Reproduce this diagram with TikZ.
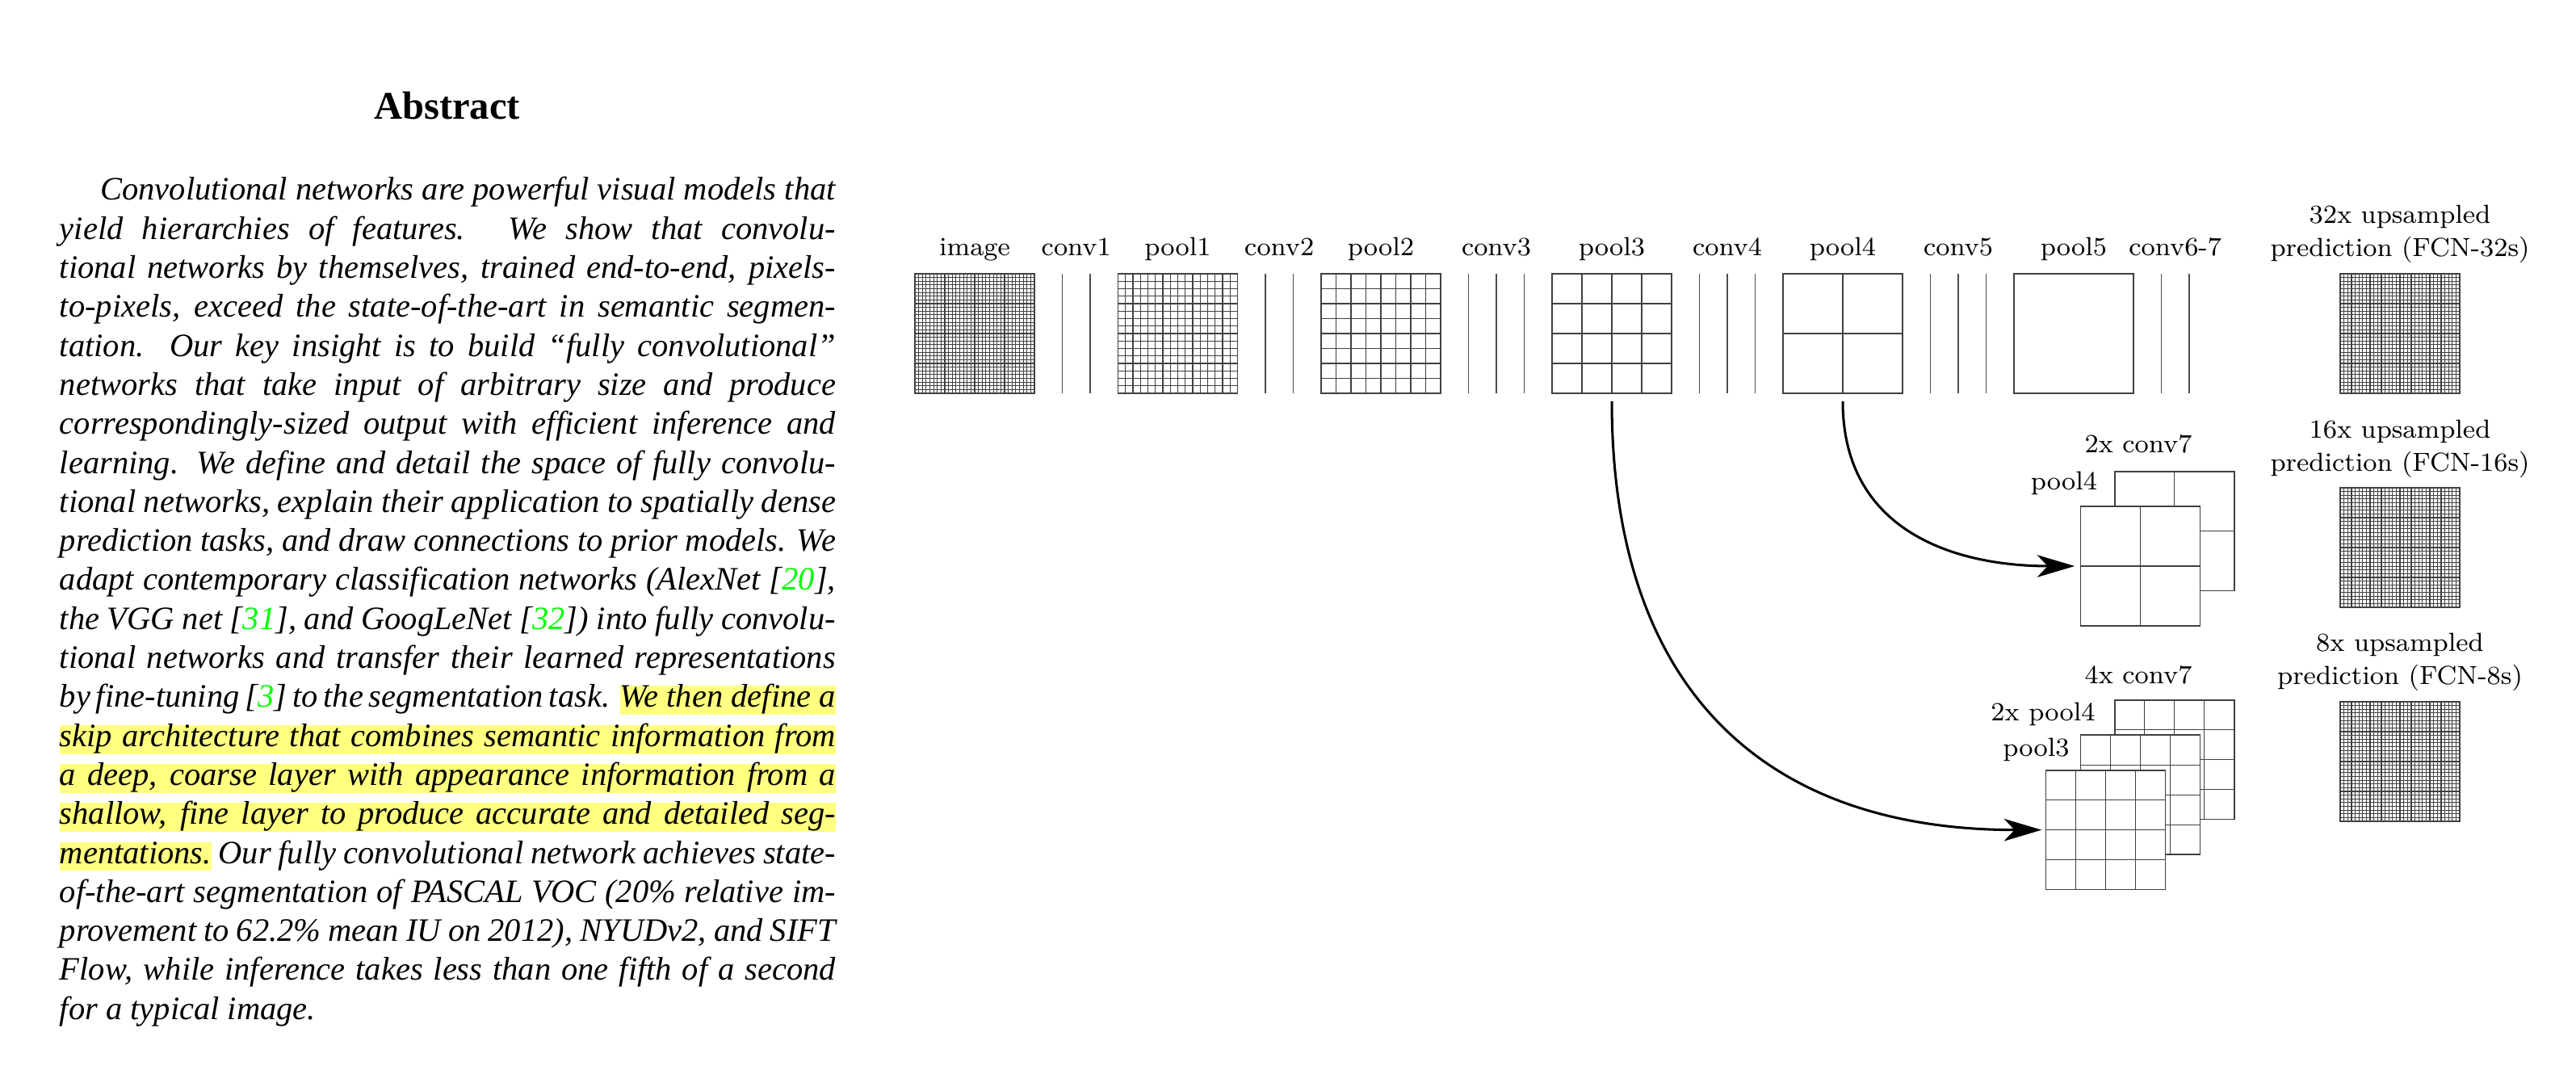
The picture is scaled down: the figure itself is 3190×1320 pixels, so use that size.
\documentclass[tikz,border=0pt]{standalone}
\usepackage{fontspec}
\newfontfamily\timesfont{Liberation Serif}
\usetikzlibrary{arrows.meta,calc}
\definecolor{hlyellow}{RGB}{255,255,128}
\definecolor{citegreen}{RGB}{0,255,0}
\newlength\abswidth
\setlength\abswidth{237.3pt}
\newcommand\absln[1]{\hbox to \abswidth{#1}}
\newcommand\hlbox[1]{{\setlength\fboxsep{0pt}\colorbox{hlyellow}{\rule[-2.3pt]{0pt}{8.85pt}\smash{#1}}}}
\newcommand\cg[1]{\textcolor{citegreen}{#1}}
\newcommand\gridbox[4]{%
  \node[fmap] (#1) at ({#2+74},{#3+74}) {};
  \pgfmathtruncatemacro\gmax{#4-1}%
  \ifnum\gmax>0
    \foreach \k in {1,...,\gmax}{%
      \draw[gline] ({#2+\k*148/#4},#3) -- ({#2+\k*148/#4},{#3+148});
      \draw[gline] (#2,{#3+\k*148/#4}) -- ({#2+148},{#3+\k*148/#4});
    }%
  \fi
}
\begin{document}
\begin{tikzpicture}[x=0.24691pt,y=-0.24691pt,
  fmap/.style={draw=black!75,line width=0.4pt,fill=white,minimum width=36.54pt,minimum height=36.54pt,inner sep=0pt,outer sep=0pt},
  gline/.style={draw=black!75,line width=0.3pt},
  cline/.style={draw=black!70,line width=0.4pt},
  lab/.style={font=\fontsize{8}{10.3}\selectfont,anchor=base,inner sep=0pt},
  lab2/.style={lab,align=center},
  absl/.style={anchor=base west,inner sep=0pt,font=\timesfont\itshape\fontsize{10}{12}\selectfont},
  skiparrow/.style={line width=0.75pt,-{Stealth[length=11.5pt,width=6.8pt,inset=3.2pt]}}]
\useasboundingbox (0,0) rectangle (3190,1320);
\fill[white] (0,0) rectangle (3190,1320);

% ---------- abstract ----------
\node[font=\timesfont\bfseries\fontsize{12}{14}\selectfont,anchor=base,inner sep=0pt] (abstitle) at (553.5,148) {Abstract};
\node[absl] (t0) at (73,248.0) {\absln{\hskip12.5pt Convolutional networks are powerful visual models that}};
\node[absl] (t1) at (73,296.3) {\absln{yield hierarchies of features. We show that convolu-}};
\node[absl] (t2) at (73,344.6) {\absln{tional networks by themselves, trained end-to-end, pixels-}};
\node[absl] (t3) at (73,392.9) {\absln{to-pixels, exceed the state-of-the-art in semantic segmen-}};
\node[absl] (t4) at (73,441.2) {\absln{tation. Our key insight is to build “fully convolutional”}};
\node[absl] (t5) at (73,489.5) {\absln{networks that take input of arbitrary size and produce}};
\node[absl] (t6) at (73,537.8) {\absln{correspondingly-sized output with efficient inference and}};
\node[absl] (t7) at (73,586.1) {\absln{learning. We define and detail the space of fully convolu-}};
\node[absl] (t8) at (73,634.4) {\absln{tional networks, explain their application to spatially dense}};
\node[absl] (t9) at (73,682.7) {\absln{prediction tasks, and draw connections to prior models. We}};
\node[absl] (t10) at (73,731.0) {\absln{adapt contemporary classification networks (AlexNet [\cg{20}],}};
\node[absl] (t11) at (73,779.3) {\absln{the VGG net [\cg{31}], and GoogLeNet [\cg{32}]) into fully convolu-}};
\node[absl] (t12) at (73,827.6) {\absln{tional networks and transfer their learned representations}};
\node[absl] (t13) at (73,875.9) {\absln{by fine-tuning [\cg{3}] to the segmentation task. \hlbox{We then define a}}};
\node[absl] (t14) at (73,924.2) {\hlbox{\absln{skip architecture that combines semantic information from}}};
\node[absl] (t15) at (73,972.5) {\hlbox{\absln{a deep, coarse layer with appearance information from a}}};
\node[absl] (t16) at (73,1020.8) {\hlbox{\absln{shallow, fine layer to produce accurate and detailed seg-}}};
\node[absl] (t17) at (73,1069.1) {\absln{\hlbox{mentations.} Our fully convolutional network achieves state-}};
\node[absl] (t18) at (73,1117.4) {\absln{of-the-art segmentation of PASCAL VOC (20\% relative im-}};
\node[absl] (t19) at (73,1165.7) {\absln{provement to 62.2\% mean IU on 2012), NYUDv2, and SIFT}};
\node[absl] (t20) at (73,1214.0) {\absln{Flow, while inference takes less than one fifth of a second}};
\node[absl] (t21) at (73,1262.3) {\absln{for a typical image.\hfil}};

% ---------- top row ----------
\gridbox{image}{1133}{339}{32}
\draw[cline] (1315.5,339) -- (1315.5,487);
\draw[cline] (1350,339) -- (1350,487);
\gridbox{pool1}{1384.5}{339}{16}
\draw[cline] (1567,339) -- (1567,487);
\draw[cline] (1601.5,339) -- (1601.5,487);
\gridbox{pool2}{1636}{339}{8}
\draw[cline] (1818.5,339) -- (1818.5,487);
\draw[cline] (1853,339) -- (1853,487);
\draw[cline] (1887.5,339) -- (1887.5,487);
\gridbox{pool3}{1922}{339}{4}
\draw[cline] (2104.5,339) -- (2104.5,487);
\draw[cline] (2139,339) -- (2139,487);
\draw[cline] (2173.5,339) -- (2173.5,487);
\gridbox{pool4}{2208}{339}{2}
\draw[cline] (2390.5,339) -- (2390.5,487);
\draw[cline] (2425,339) -- (2425,487);
\draw[cline] (2459.5,339) -- (2459.5,487);
\gridbox{pool5}{2494}{339}{1}
\draw[cline] (2676.5,339) -- (2676.5,487);
\draw[cline] (2711,339) -- (2711,487);
\gridbox{up32}{2898}{339}{32}

\node[lab] (Limage) at (1207,317) {image};
\node[lab] (Lconv1) at (1332.75,317) {conv1};
\node[lab] (Lpool1) at (1458.5,317) {pool1};
\node[lab] (Lconv2) at (1584.25,317) {conv2};
\node[lab] (Lpool2) at (1710,317) {pool2};
\node[lab] (Lconv3) at (1853,317) {conv3};
\node[lab] (Lpool3) at (1996,317) {pool3};
\node[lab] (Lconv4) at (2139,317) {conv4};
\node[lab] (Lpool4) at (2282,317) {pool4};
\node[lab] (Lconv5) at (2425,317) {conv5};
\node[lab] (Lpool5) at (2568,317) {pool5};
\node[lab] (Lconv67) at (2693.75,317) {conv6-7};
\node[lab2] (Lup32) at (2972,318) {32x upsampled\\prediction (FCN-32s)};

% ---------- FCN-16s ----------
\gridbox{c7x2}{2618.7}{583.7}{2}
\gridbox{p4x1}{2576.3}{627}{2}
\node[lab] (Lc7x2) at (2648,561) {2x conv7};
\node[lab] (Lp4x1) at (2556,606.7) {pool4};
\gridbox{up16}{2898}{604}{32}
\node[lab2] (Lup16) at (2972,584) {16x upsampled\\prediction (FCN-16s)};

% ---------- FCN-8s ----------
\gridbox{c7x4}{2618.7}{866.7}{4}
\gridbox{p4x2}{2576.3}{910.3}{4}
\gridbox{p3x1}{2533.3}{953.7}{4}
\node[lab] (Lc7x4) at (2648,847) {4x conv7};
\node[lab] (Lp4x2) at (2530,893) {2x pool4};
\node[lab] (Lp3x1) at (2521.5,937) {pool3};
\gridbox{up8}{2898}{869}{32}
\node[lab2] (Lup8) at (2972,848) {8x upsampled\\prediction (FCN-8s)};

% ---------- skip connections ----------
\draw[skiparrow] ($(pool4.south)+(0,10)$) .. controls +(0,160) and +(-150,0) .. ($(p4x1.west)+(-7,0)$);
\draw[skiparrow] ($(pool3.south)+(0,10)$) .. controls +(0,350) and +(-350,0) .. ($(p3x1.west)+(-5,0)$);
\end{tikzpicture}
\end{document}
